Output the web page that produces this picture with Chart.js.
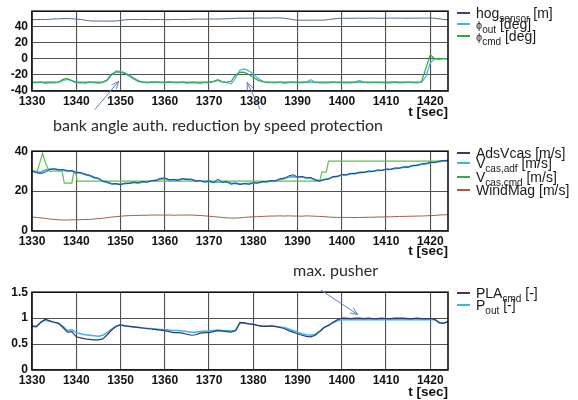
<!DOCTYPE html>
<html><head><meta charset="utf-8">
<script src="https://cdn.jsdelivr.net/npm/chart.js@4.4.1/dist/chart.umd.min.js"></script>
<style>
html,body{margin:0;padding:0;background:#fff;}
body{width:578px;height:400px;position:relative;overflow:hidden;font-family:"Liberation Sans",Arial,sans-serif;}
canvas{position:absolute;left:0;}
.leg{position:absolute;left:457px;font-size:14px;line-height:14px;height:14px;color:#1a1a1a;white-space:nowrap;}
.leg .sw{display:inline-block;width:13px;height:2px;vertical-align:middle;margin-right:6px;position:relative;top:-1px;}
.leg sub{font-size:10px;line-height:0;vertical-align:-4px;}
.leg .ph{font-size:11px;}
.note{position:absolute;font-family:Lato,"Open Sans",sans-serif;font-size:16px;line-height:18px;color:#2a2a2a;white-space:nowrap;}
</style></head><body>
<canvas id="c1" width="460" height="120" style="top:0px"></canvas>
<canvas id="c2" width="460" height="119" style="top:140px"></canvas>
<canvas id="c3" width="460" height="119" style="top:281px"></canvas>

<div class="leg" style="top:6px"><span class="sw" style="background:#34447f"></span>hog<sub>sensor</sub> [m]</div>
<div class="leg" style="top:17px"><span class="sw" style="background:#3fb4e8"></span><span class="ph">ϕ</span><sub>out</sub> [deg]</div>
<div class="leg" style="top:29px"><span class="sw" style="background:#2ea83c"></span><span class="ph">ϕ</span><sub>cmd</sub> [deg]</div>

<div class="leg" style="top:146px"><span class="sw" style="background:#2b3f80"></span>AdsVcas [m/s]</div>
<div class="leg" style="top:156px"><span class="sw" style="background:#3fb4e8"></span>V<sub>cas,adf</sub> [m/s]</div>
<div class="leg" style="top:170px"><span class="sw" style="background:#3aa844"></span>V<sub>cas,cmd</sub> [m/s]</div>
<div class="leg" style="top:183px"><span class="sw" style="background:#a0603f"></span>WindMag [m/s]</div>

<div class="leg" style="top:286px"><span class="sw" style="background:#2d3b75"></span>PLA<sub>cmd</sub> [-]</div>
<div class="leg" style="top:298px"><span class="sw" style="background:#3fb4e8"></span>P<sub>out</sub> [-]</div>

<div class="note" style="left:53px;top:116px">bank angle auth. reduction by speed protection</div>
<div class="note" style="left:293px;top:261px">max. pusher</div>

<script>
// sample times (1 s)
const t = Array.from({length: 95}, (_, i) => 1330 + i);
const timeTicks = [1330,1340,1350,1360,1370,1380,1390,1400,1410,1420];
const angleTicks = [-40,-20,0,20,40];
const speedTicks = [0,20,40];
const throttleTicks = [0,0.5,1,1.5];

const hogSensor = [48.5,48.6,48.8,48.7,49.0,49.3, 49.6,49.8,49.9,49.6,49.2,48.8, 47.8,47.0,46.8,46.7,46.8,46.6,
  46.8,46.9,47.5,48.3,48.6,48.7, 48.6,48.8,48.7,48.5,48.7,48.8, 48.6,48.5,48.7,48.8,48.6,48.7,
  49.0,49.2,49.3,49.1,49.3,49.4, 49.2,49.5,49.6,49.8,50.2,50.4, 50.2,50.4,50.3,50.5,50.6,50.4,
  50.5,50.7,50.6,50.3,49.5,48.4, 47.9,47.8,47.9,47.8,48.0,47.9, 48.0,48.6,49.4,50.0,50.2,50.3,
  50.1,50.3,50.4,50.2,50.3,50.4, 50.3,50.2,50.4,50.5,50.3,50.4, 50.3,50.2,50.4,50.3,50.5,50.4,
  50.6,50.2,49.6,48.8,48.4];
const phiOut = [-29.5,-30,-29,-30.5,-29.5,-30, -29.5,-27,-25.5,-27.5,-30,-29.5, -30.5,-29,-29.5,-30.5,-29.5,-27,
  -20,-15,-15.5,-17.5,-20.5,-24, -27,-29,-30,-29,-28.5,-29.5, -30,-28.5,-29.5,-30,-29,-30.5,
  -29.5,-30,-31,-29.5,-30,-28.5, -27,-29,-29.5,-31,-24,-14, -12.5,-15,-19,-24,-27.5,-29.5,
  -29.5,-30,-29,-30.5,-29.5,-29, -30,-29.5,-29,-26,-29.5,-30, -29.5,-30,-29,-29.5,-30,-29.5,
  -30,-29,-27,-29.5,-30,-29.5, -29.5,-30,-29.5,-30,-29,-30, -29.5,-29,-29.5,-30,-29.5,-22,
  -5,0,-1,0.5,-0.5];
const phiCmd = [-29,-29,-29,-29,-29,-29, -29,-25.5,-24.5,-27,-29,-29, -29,-29,-29,-29,-29,-26,
  -19,-16.5,-16.5,-18.5,-21.5,-25, -28,-29,-29,-29,-29,-29, -29,-29,-29,-29,-29,-29,
  -29,-29,-29,-29,-29,-28, -26,-28.5,-29,-28,-20,-16.5, -17,-19.5,-23,-26.5,-28.5,-29,
  -29,-29,-29,-29,-29,-29, -29,-29,-29,-29,-29,-29, -29,-29,-29,-29,-29,-29,
  -29,-29,-29,-29,-29,-29, -29,-29,-29,-29,-29,-29, -29,-29,-29,-29,-28.5,-12,
  5,0,0.5,0,-0.5];

const adsVcas = [30.2,29.2,28.8,29.5,30.8,31.2, 30.6,30.8,30.0,30.3,29.2,29.4, 28.2,28.0,26.6,26.5,24.8,24.6,
  23.5,23.8,23.2,24.0,23.8,24.5, 24.0,24.8,24.4,25.3,25.2,26.4, 26.6,25.5,25.9,25.3,26.3,25.8,
  26.0,25.0,25.3,24.5,25.1,24.2, 26.0,24.3,24.9,23.4,24.1,23.3, 23.9,23.4,24.2,24.0,24.8,24.6,
  25.3,25.0,26.3,26.2,27.6,28.2, 27.0,27.4,26.5,26.9,25.5,25.0, 25.9,26.0,27.3,27.2,28.3,28.0,
  28.9,28.7,29.5,29.3,30.1,29.8, 30.6,30.3,31.1,30.8,31.6,31.4, 32.2,31.9,32.9,32.8,33.7,33.6,
  34.5,34.3,35.0,35.3,35.2];
const vCasAdf = [30,29.5,29.5,30.5,31,31, 30.8,30.5,30.2,30,29.5,29, 28.5,27.8,27,26.2,25.2,24.3,
  23.8,23.5,23.5,23.7,24,24.2, 24.3,24.5,24.7,25,25.5,26, 26.2,25.8,25.5,25.8,26,26,
  25.7,25.3,25,24.8,24.8,24.5, 24.5,24.7,24.5,24,23.8,23.6, 23.6,23.8,24,24.3,24.5,24.8,
  25,25.3,25.8,26.5,27,27.3, 27.2,27,26.8,26.4,25.8,25.2, 25.6,26.3,27,27.5,28,28.3,
  28.6,28.9,29.2,29.5,29.8,30, 30.3,30.5,30.8,31,31.3,31.6, 31.9,32.2,32.6,33,33.4,33.8,
  34.2,34.5,34.8,35.1,35.4];
const tCasCmd = [1330,1331.2,1332.4,1332.9,1333.9,1336.8,1337.3,1339.0,1339.4,1339.9,1340.2,1395.0,1395.5,1396.5,1397.0,1424];
const vCasCmd = [30,30,39,35,30,30,24,24,29,29,25,25,29.5,29.5,35,35];
const windMag = [7.0,6.8,6.6,6.3,6.0,5.8, 5.6,5.5,5.5,5.6,5.6,5.7, 5.8,5.8,6.0,6.2,6.4,6.7,
  7.0,7.2,7.4,7.6,7.7,7.8, 7.8,7.9,7.9,8.0,8.0,8.0, 8.0,8.0,7.9,8.0,8.0,8.0,
  8.0,7.9,7.8,7.6,7.4,7.2, 7.0,6.8,6.6,6.5,6.5,6.6, 6.8,7.0,7.1,7.2,7.3,7.4,
  7.5,7.5,7.6,7.5,7.6,7.5, 7.5,7.4,7.6,7.5,7.4,7.3, 7.2,7.0,6.9,6.8,6.8,6.8,
  6.8,6.7,6.8,6.8,6.9,6.9, 7.0,7.0,7.1,7.1,7.2,7.3, 7.3,7.4,7.4,7.5,7.5,7.6,
  7.7,7.8,8.0,8.1,8.2];

const plaCmd = [0.85,0.84,0.92,0.98,0.95,0.92, 0.90,0.82,0.73,0.74,0.64,0.62, 0.60,0.59,0.58,0.58,0.60,0.68,
  0.77,0.84,0.87,0.85,0.84,0.83, 0.82,0.81,0.80,0.79,0.78,0.77, 0.76,0.74,0.72,0.72,0.71,0.69,
  0.67,0.68,0.71,0.72,0.72,0.74, 0.76,0.75,0.74,0.73,0.76,0.92, 0.91,0.89,0.88,0.86,0.84,0.84,
  0.85,0.84,0.82,0.80,0.76,0.73, 0.70,0.67,0.65,0.64,0.67,0.74, 0.82,0.86,0.92,0.97,1.0,1.0,
  0.99,1.0,1.0,0.99,1.0,0.99, 0.99,1.0,0.99,0.99,1.0,1.0, 1.0,0.99,0.99,1.0,0.99,0.99,
  0.99,0.98,0.91,0.90,0.94];
const pOut = [0.84,0.83,0.92,0.96,0.94,0.92, 0.90,0.84,0.76,0.78,0.72,0.70, 0.68,0.67,0.66,0.65,0.67,0.72,
  0.79,0.85,0.87,0.85,0.84,0.83, 0.82,0.81,0.80,0.80,0.79,0.78, 0.78,0.77,0.76,0.76,0.75,0.74,
  0.73,0.73,0.74,0.75,0.75,0.76, 0.77,0.76,0.76,0.75,0.76,0.90, 0.90,0.89,0.88,0.86,0.85,0.85,
  0.85,0.84,0.83,0.82,0.79,0.76, 0.73,0.70,0.68,0.67,0.69,0.75, 0.82,0.86,0.91,0.95,0.97,0.97,
  0.97,0.97,0.97,0.97,0.97,0.97, 0.97,0.97,0.97,0.97,0.97,0.97, 0.97,0.97,0.97,0.97,0.97,0.97,
  0.97,0.97,0.92,0.90,0.93];

// annotation arrows (tail -> head, in data units of each panel)
const arrows1 = [{x0:1344.2,y0:-63,x1:1349.6,y1:-28},{x0:1381.6,y0:-63,x1:1378.6,y1:-29.5}];
const arrows3 = [{x0:1395.3,y0:1.54,x1:1403.6,y1:1.07}];

function pts(xs, ys){ return ys.map((y,i)=>({x:xs[i], y:y})); }
function ds(data, color, width){ return {data:data, borderColor:color, borderWidth:width, pointRadius:0, fill:false, tension:0}; }

function makeChart(id, datasets, yMin, yMax, yTicks, padTop, xAxisH, arrows){
  const boxPlugin = {
    id:'box',
    afterDraw(chart){
      const ctx = chart.ctx, a = chart.chartArea, sx = chart.scales.x, sy = chart.scales.y;
      ctx.save();
      ctx.strokeStyle = '#111'; ctx.lineWidth = 1.6;
      ctx.strokeRect(a.left, a.top, a.right - a.left, a.bottom - a.top);
      ctx.strokeStyle = '#5d82c6'; ctx.lineWidth = 1;
      (arrows||[]).forEach(r => {
        const X0 = sx.getPixelForValue(r.x0), Y0 = sy.getPixelForValue(r.y0);
        const X1 = sx.getPixelForValue(r.x1), Y1 = sy.getPixelForValue(r.y1);
        const ang = Math.atan2(Y1 - Y0, X1 - X0), L = 8, w = 0.4;
        ctx.beginPath(); ctx.moveTo(X0, Y0); ctx.lineTo(X1, Y1);
        ctx.moveTo(X1 - L*Math.cos(ang - w), Y1 - L*Math.sin(ang - w)); ctx.lineTo(X1, Y1);
        ctx.lineTo(X1 - L*Math.cos(ang + w), Y1 - L*Math.sin(ang + w));
        ctx.stroke();
      });
      ctx.restore();
    }
  };
  const tickFont = {family:'"Liberation Sans", Arial, sans-serif', size:12, weight:'bold'};
  return new Chart(document.getElementById(id), {
    type:'line',
    data:{datasets:datasets},
    options:{
      responsive:false, animation:false, events:[],
      layout:{padding:{top:padTop, right:12, left:0, bottom:0}},
      plugins:{legend:{display:false}, tooltip:{enabled:false}},
      scales:{
        x:{type:'linear', min:1330, max:1424,
          afterBuildTicks:s => { s.ticks = timeTicks.map(v => ({value:v})); },
          afterFit:s => { s.height = xAxisH; },
          grid:{color:'#505050', lineWidth:1.1, drawTicks:false}, border:{display:false},
          ticks:{font:tickFont, color:'#111', padding:3, maxRotation:0, autoSkip:false, callback:v => String(v)},
          title:{display:true, text:'t [sec]', align:'end', color:'#111', padding:0,
            font:{family:'"Liberation Sans", Arial, sans-serif', size:13.5, weight:'bold'}}},
        y:{type:'linear', min:yMin, max:yMax,
          afterBuildTicks:s => { s.ticks = yTicks.map(v => ({value:v})); },
          afterFit:s => { s.width = 32; },
          grid:{color:'#505050', lineWidth:1.1, drawTicks:false}, border:{display:false},
          ticks:{font:tickFont, color:'#111', padding:4, callback:v => String(v)}}
      }
    },
    plugins:[boxPlugin]
  });
}

makeChart('c1', [
  ds(pts(t, hogSensor), '#5566a0', 1),
  ds(pts(t, phiCmd), '#2ea83c', 1.2),
  ds(pts(t, phiOut), '#3fb4e8', 1.2)
], -40, 59, angleTicks, 8, 29, arrows1);

makeChart('c2', [
  ds(pts(t, adsVcas), '#2b3f80', 1),
  ds(pts(t, vCasAdf), '#3fb4e8', 1.8),
  ds(pts(tCasCmd, vCasCmd), '#62bf4e', 1.2),
  ds(pts(t, windMag), '#a0603f', 1)
], 0, 40, speedTicks, 9, 28, []);

makeChart('c3', [
  ds(pts(t, plaCmd), '#2d3b75', 1.2),
  ds(pts(t, pOut), '#3fb4e8', 1.5)
], 0, 1.5, throttleTicks, 9, 30, arrows3);
</script>
</body></html>
